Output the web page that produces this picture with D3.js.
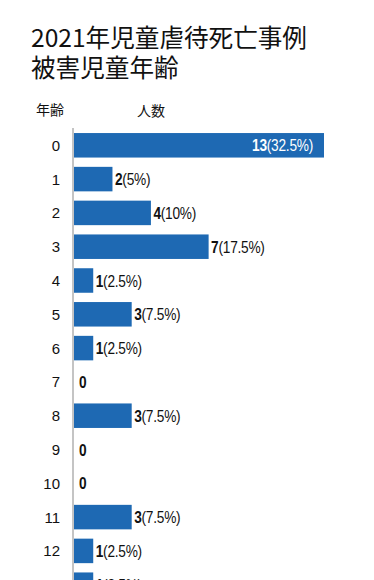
<!DOCTYPE html>
<html>
<head>
<meta charset="utf-8">
<script src="https://cdn.jsdelivr.net/npm/d3@7"></script>
<style>
  body { margin: 0; background: #fff; }
  svg { display: block; }
</style>
</head>
<body>
<div id="chart"></div>
<script>
// data
var ages = ["0", "1", "2", "3", "4", "5", "6", "7", "8", "9", "10", "11", "12", "13"];
var counts = [13, 2, 4, 7, 1, 3, 1, 0, 3, 0, 0, 3, 1, 1];
var percents = ["32.5%", "5%", "10%", "17.5%", "2.5%", "7.5%", "2.5%", "", "7.5%", "", "", "7.5%", "2.5%", "2.5%"];
var titleLines = ["2021年児童虐待死亡事例", "被害児童年齢"];
var headers = ["年齢", "人数"];

var width = 374, height = 580;
var barColor = "#1e69b3";
var numFont = "'Liberation Sans', Arial, sans-serif";
var jpFont = "'Noto Sans CJK JP', 'Noto Sans', sans-serif";

var svg = d3.select("#chart")
  .append("svg")
    .attr("width", width)
    .attr("height", height);

// title
svg.append("g")
  .selectAll("text")
  .data(titleLines)
  .enter()
  .append("text")
    .attr("x", 31)
    .attr("y", function (d, i) { return 47 + i * 30; })
    .style("font-family", jpFont)
    .style("font-size", "24.6px")
    .style("fill", "#111")
    .text(function (d) { return d; });

// column headers
svg.append("text")
  .attr("x", 36).attr("y", 115)
  .style("font-family", jpFont).style("font-size", "14px").style("fill", "#111")
  .text(headers[0]);
svg.append("text")
  .attr("x", 137).attr("y", 116)
  .style("font-family", jpFont).style("font-size", "14px").style("fill", "#111")
  .text(headers[1]);

// scales
var step = 33.8;
var y = d3.scaleBand()
  .domain(ages)
  .range([128.4, 128.4 + step * ages.length])
  .paddingInner(0.275)
  .paddingOuter(0.1375);

var x = d3.scaleLinear()
  .domain([0, 13])
  .range([74, 324]);

// axis line
svg.append("line")
  .attr("x1", 73).attr("x2", 73)
  .attr("y1", 128).attr("y2", height)
  .style("stroke", "#c4c4c4")
  .style("stroke-width", 2);

// age labels
svg.append("g")
  .selectAll("text")
  .data(ages)
  .enter()
  .append("text")
    .attr("x", 60)
    .attr("y", function (d) { return y(d) + y.bandwidth() / 2 + 5.5; })
    .attr("text-anchor", "end")
    .style("font-family", numFont)
    .style("font-size", "15px")
    .style("fill", "#111")
    .text(function (d) { return d; });

// bars
svg.append("g")
  .selectAll("rect")
  .data(counts)
  .enter()
  .append("rect")
    .attr("x", x(0))
    .attr("y", function (d, i) { return y(ages[i]); })
    .attr("width", function (d) { return x(d) - x(0); })
    .attr("height", y.bandwidth())
    .style("fill", barColor);

// value labels (narrow look: squeeze horizontally)
var labels = svg.append("g")
  .selectAll("text")
  .data(counts)
  .enter()
  .append("text")
    .attr("transform", function (d, i) {
      var lx = d >= 10 ? x(d) - 11 : (d === 0 ? x(0) + 5 : x(d) + 2.5);
      var ly = y(ages[i]) + y.bandwidth() / 2 + 6;
      return "translate(" + lx + "," + ly + ") scale(0.83,1)";
    })
    .attr("text-anchor", function (d) { return d >= 10 ? "end" : "start"; })
    .style("font-family", numFont)
    .style("font-size", "16.5px")
    .style("letter-spacing", "-0.3px")
    .style("fill", function (d) { return d >= 10 ? "#fff" : "#111"; });

labels.append("tspan")
  .style("font-weight", "bold")
  .text(function (d) { return d; });
labels.append("tspan")
  .text(function (d, i) { return percents[i] ? "(" + percents[i] + ")" : ""; });
</script>
</body>
</html>
